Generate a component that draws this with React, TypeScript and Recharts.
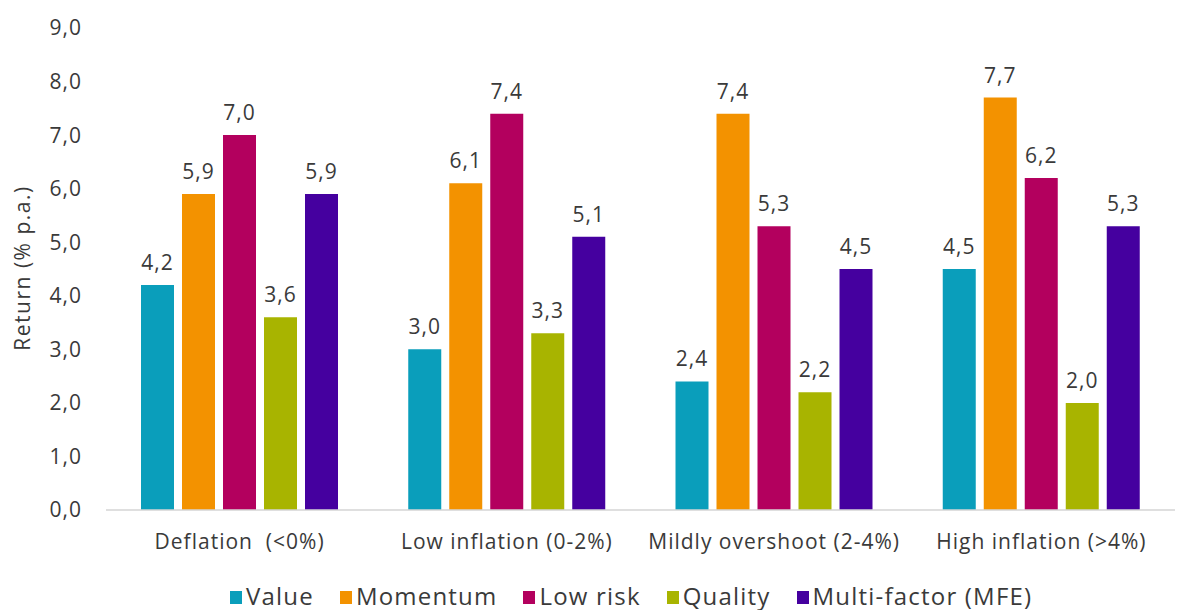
import React from "react";
import { BarChart, Bar, XAxis, YAxis, LabelList, Legend } from "recharts";

// Regimes on the category axis
const regimes = [
  "Deflation\u00A0\u00A0(<0%)",
  "Low inflation (0-2%)",
  "Mildly overshoot (2-4%)",
  "High inflation (>4%)",
];

// Annualised factor returns per regime (% p.a.)
const valueReturns = [4.2, 3.0, 2.4, 4.5];
const momentumReturns = [5.9, 6.1, 7.4, 7.7];
const lowRiskReturns = [7.0, 7.4, 5.3, 6.2];
const qualityReturns = [3.6, 3.3, 2.2, 2.0];
const multiFactorReturns = [5.9, 5.1, 4.5, 5.3];

const yTicks = [0, 1, 2, 3, 4, 5, 6, 7, 8, 9];

const series = [
  { key: "value", name: "Value", color: "#0A9EBB", values: valueReturns },
  { key: "momentum", name: "Momentum", color: "#F39200", values: momentumReturns },
  { key: "lowRisk", name: "Low risk", color: "#B3005E", values: lowRiskReturns },
  { key: "quality", name: "Quality", color: "#A8B400", values: qualityReturns },
  { key: "multi", name: "Multi-factor (MFE)", color: "#45009F", values: multiFactorReturns },
];

const data = regimes.map((regime, i) => {
  const row: Record<string, string | number> = { regime };
  series.forEach((s) => {
    row[s.key] = s.values[i];
  });
  return row;
});

const FONT = "'Open Sans', 'Noto Sans', sans-serif";
const TEXT = "#3a3a3a";
const FS = 21;
const LS = 1;

const fmt = (v: number) => v.toFixed(1).replace(".", ",");

const LegendRow = () => (
  <div
    style={{
      display: "flex",
      alignItems: "center",
      fontFamily: FONT,
      fontSize: 24,
      letterSpacing: 1.2,
      color: TEXT,
      paddingLeft: 230,
      height: 30,
    }}
  >
    {series.map((s) => (
      <div key={s.key} style={{ display: "flex", alignItems: "center", marginRight: 26 }}>
        <span
          style={{
            display: "inline-block",
            width: 12,
            height: 13,
            background: s.color,
            marginRight: 4,
            marginTop: 4,
          }}
        />
        <span>{s.name}</span>
      </div>
    ))}
  </div>
);

const YTitle = () => (
  <text
    x={22}
    y={268}
    transform="rotate(-90 22 268)"
    textAnchor="middle"
    dominantBaseline="central"
    fontFamily={FONT}
    fontSize={21}
    letterSpacing={1.5}
    fill={TEXT}
  >
    Return (% p.a.)
  </text>
);

export default function App() {
  return (
    <div style={{ position: "absolute", left: 0, top: 0, width: 1181, height: 610, background: "#fff" }}>
      <BarChart
        width={1181}
        height={610}
        data={data}
        margin={{ top: 28, right: 6, bottom: 40, left: 0 }}
        barSize={33}
        barGap={8}
      >
        <XAxis
          dataKey="regime"
          height={30}
          axisLine={{ stroke: "#d4d4d4", strokeWidth: 1.5 }}
          tickLine={false}
          tickSize={0}
          tickMargin={24}
          interval={0}
          tick={{ fontFamily: FONT, fontSize: FS, fill: TEXT, letterSpacing: LS }}
        />
        <YAxis
          width={106}
          domain={[0, 9]}
          ticks={yTicks}
          axisLine={false}
          tickLine={false}
          tickSize={0}
          tickMargin={24}
          tickFormatter={fmt}
          tick={{ fontFamily: FONT, fontSize: FS, fill: TEXT, letterSpacing: LS }}
          label={<YTitle />}
        />
        <Legend
          verticalAlign="bottom"
          height={30}
          wrapperStyle={{ left: 0, width: 1181, bottom: 0 }}
          content={() => <LegendRow />}
        />
        {series.map((s) => (
          <Bar key={s.key} dataKey={s.key} name={s.name} fill={s.color} isAnimationActive={false}>
            <LabelList
              dataKey={s.key}
              position="top"
              offset={15}
              formatter={(v: number) => fmt(v)}
              style={{ fontFamily: FONT, fontSize: FS, fill: TEXT, letterSpacing: LS }}
            />
          </Bar>
        ))}
      </BarChart>
    </div>
  );
}
